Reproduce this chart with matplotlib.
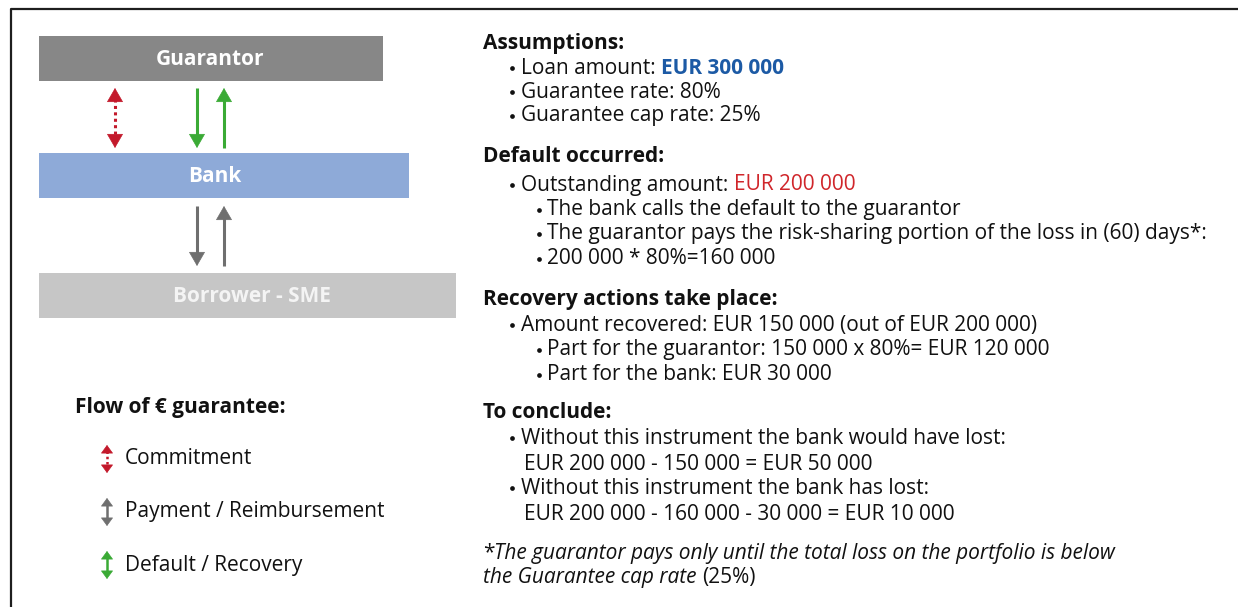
import matplotlib
matplotlib.use('Agg')
import matplotlib.pyplot as plt
from matplotlib.patches import Rectangle, FancyArrowPatch

plt.rcParams['font.family'] = ['Open Sans', 'DejaVu Sans']

# ---- content ----
box_labels = ['Guarantor', 'Bank', 'Borrower - SME']
box_colors = ['#878787', '#8eaad8', '#c6c6c6']
legend_title = 'Flow of \u20ac guarantee:'
legend_labels = ['Commitment', 'Payment / Reimbursement', 'Default / Recovery']
legend_colors = ['#c3192b', '#6f6f6f', '#3aaa35']

loan_amount = 'EUR 300 000'
guarantee_rate = '80%'
cap_rate = '25%'
outstanding = 'EUR 200 000'

# (level, text parts) ; level 0 = heading, 1 = bullet, 2 = sub bullet, 3 = continuation
text_lines = [
    (0, [('Assumptions:', {})]),
    (1, [('Loan amount: ', {}), (loan_amount, {'color': '#1c5aa5', 'weight': 'bold'})]),
    (1, [('Guarantee rate: ' + guarantee_rate, {})]),
    (1, [('Guarantee cap rate: ' + cap_rate, {})]),
    (0, [('Default occurred:', {})]),
    (1, [('Outstanding amount: ', {}), (outstanding, {'color': '#d0262b'})]),
    (2, [('The bank calls the default to the guarantor', {})]),
    (2, [('The guarantor pays the risk-sharing portion of the loss in (60) days*:', {})]),
    (2, [('200 000 * 80%=160 000', {})]),
    (0, [('Recovery actions take place:', {})]),
    (1, [('Amount recovered: EUR 150 000 (out of EUR 200 000)', {})]),
    (2, [('Part for the guarantor: 150 000 x 80%= EUR 120 000', {})]),
    (2, [('Part for the bank: EUR 30 000', {})]),
    (0, [('To conclude:', {})]),
    (1, [('Without this instrument the bank would have lost:', {})]),
    (3, [('EUR 200 000 - 150 000 = EUR 50 000', {})]),
    (1, [('Without this instrument the bank has lost:', {})]),
    (3, [('EUR 200 000 - 160 000 - 30 000 = EUR 10 000', {})]),
    (4, [('*', {}), ('The guarantor pays only until the total loss on the portfolio is below', {'style': 'italic'})]),
    (4, [('the Guarantee cap rate ', {'style': 'italic'}), ('(25%)', {})]),
]
line_y = [43, 68, 92, 116, 157, 185, 210, 234, 259, 299, 325, 350, 375,
          412, 438, 464, 488, 514, 553, 577]

# ---- figure in pixel coordinates ----
W, H = 1238, 607
fig = plt.figure(figsize=(W / 100, H / 100), dpi=100)
ax = fig.add_axes([0, 0, 1, 1])
ax.set_xlim(0, W)
ax.set_ylim(H, 0)
ax.axis('off')

# frame (top and left only)
ax.plot([11, 11, W], [H, 9, 9], color='#1e1e1e', lw=1.6, solid_capstyle='butt')

# boxes
boxes = [(39, 36, 344, 45), (39, 153, 370, 45), (39, 273, 417, 45)]
label_x = [210, 215, 252]
txt_colors = ['white', 'white', '#f4f4f4']
for (x, y, w, h), lx, lab, c, tc in zip(boxes, label_x, box_labels, box_colors, txt_colors):
    ax.add_patch(Rectangle((x, y), w, h, facecolor=c, edgecolor='none'))
    ax.text(lx, y + h / 2 + 1, lab, ha='center', va='center', color=tc,
            fontsize=15, fontweight='bold')

PX = 100 / 72  # pixels per point


def head(x, tip, direction, color, length, width):
    # filled triangle head only; direction +1 points down, -1 points up
    style = '-|>,head_length=%g,head_width=%g' % (length / (10 * PX), width / 2 / (10 * PX))
    ax.add_patch(FancyArrowPatch((x, tip - direction * length), (x, tip),
                                 arrowstyle=style, mutation_scale=10,
                                 color=color, lw=0.5, shrinkA=0, shrinkB=0))


def arrow(x, y0, y1, color, lw=2.2, hlen=13, hwid=15, both=False, dotted=False):
    d = 1 if y1 > y0 else -1
    start = y0 + d * (hlen - 2) if both else y0
    ls = (0, (1, 1.1)) if dotted else '-'
    ax.plot([x, x], [start, y1 - d * (hlen - 2)], color=color, lw=lw, ls=ls,
            solid_capstyle='butt')
    head(x, y1, d, color, hlen, hwid)
    if both:
        head(x, y0, -d, color, hlen, hwid)


# arrows between boxes
arrow(115, 88, 148, legend_colors[0], dotted=True, both=True)
arrow(197, 88, 148, legend_colors[2])
arrow(224, 148, 88, legend_colors[2])
arrow(197, 206, 266, legend_colors[1])
arrow(224, 266, 206, legend_colors[1])

# legend
ax.text(75, 408, legend_title, ha='left', va='center', fontsize=15,
        fontweight='bold', color='#111111')
for i, (lab, c) in enumerate(zip(legend_labels, legend_colors)):
    yc = 459 + i * 53
    arrow(107, yc - 14, yc + 14, c, lw=1.8, hlen=7.5, hwid=11, both=True,
          dotted=(i == 0))
    ax.text(125, yc, lab, ha='left', va='center', fontsize=15, color='#111111')

# right-hand text
fig.canvas.draw()
renderer = fig.canvas.get_renderer()
indent = {0: 483, 1: 521, 2: 547, 3: 524, 4: 483}
bullet_x = {1: 512, 2: 539}
for (lvl, parts), y in zip(text_lines, line_y):
    x = indent[lvl]
    if lvl in bullet_x:
        ax.plot(bullet_x[lvl], y, 'o', ms=3.4, color='#111111', mew=0)
    for s, kw in parts:
        style = {'fontsize': 15, 'color': '#111111'}
        if lvl == 0:
            style['weight'] = 'bold'
        style.update(kw)
        t = ax.text(x, y, s, ha='left', va='center', **style)
        x += t.get_window_extent(renderer).width

fig.savefig('out.png', dpi=100)
